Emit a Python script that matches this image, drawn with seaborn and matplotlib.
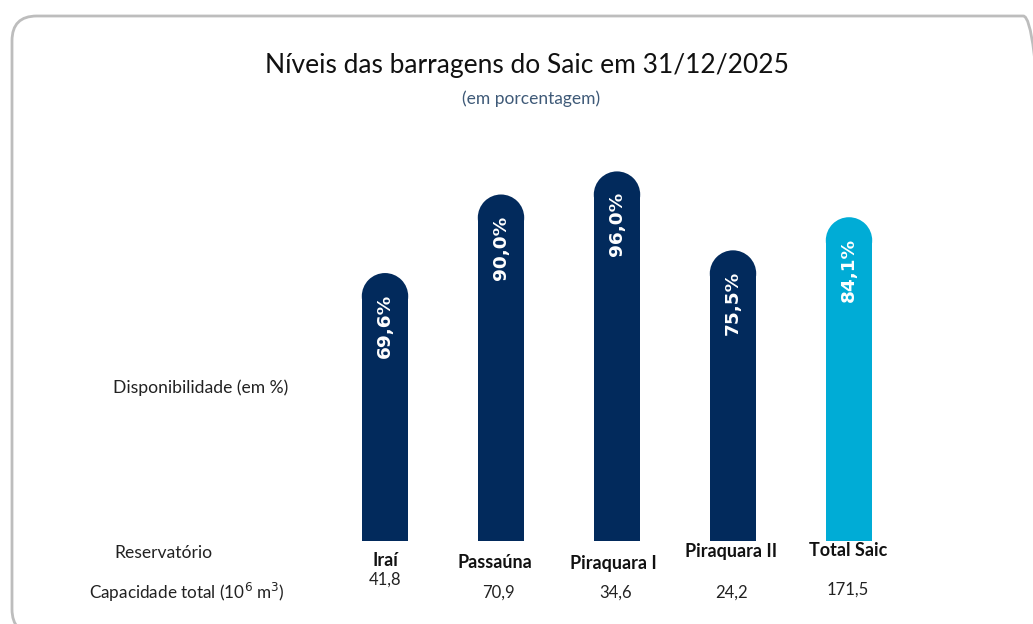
import matplotlib
matplotlib.use("Agg")
import matplotlib.pyplot as plt
import seaborn as sns
import pandas as pd
from matplotlib.patches import Ellipse, FancyBboxPatch

# ---- data ----
reservatorios = ["Iraí", "Passaúna", "Piraquara I", "Piraquara II", "Total Saic"]
disponibilidade = [69.6, 90.0, 96.0, 75.5, 84.1]
capacidade = ["41,8", "70,9", "34,6", "24,2", "171,5"]
rotulos = ["69,6%", "90,0%", "96,0%", "75,5%", "84,1%"]

NAVY = "#022a5c"
CYAN = "#00acd6"
colors = [NAVY, NAVY, NAVY, NAVY, CYAN]

sns.set_theme(style="white")
plt.rcParams["font.family"] = ["Lato", "DejaVu Sans"]

W, H = 1033, 624
fig = plt.figure(figsize=(W / 100, H / 100), dpi=100)

# rounded frame (extends past the right and bottom edges)
frame = FancyBboxPatch((12 / W, -10 / H), (1048 - 12) / W, (H - 16 + 10) / H,
                       boxstyle="round,pad=0,rounding_size=0.024",
                       transform=fig.transFigure, fill=False,
                       edgecolor="#bdbdbd", linewidth=2.0,
                       mutation_aspect=W / H)
fig.patches.append(frame)

ax = fig.add_axes([327 / W, (H - 541) / H, 580 / W, 385 / H])
df = pd.DataFrame({"res": reservatorios, "val": disponibilidade})
sns.barplot(data=df, x="res", y="val", hue="res", palette=colors,
            legend=False, width=0.4, ax=ax, saturation=1,
            edgecolor="none", linewidth=0)
ax.set_xlim(-0.5, len(reservatorios) - 0.5)
ax.set_ylim(0, 100)
ax.axis("off")

# round the tops of the bars
fig.canvas.draw()
px_per_y = ax.transData.transform((0, 1))[1] - ax.transData.transform((0, 0))[1]
px_per_x = ax.transData.transform((1, 0))[0] - ax.transData.transform((0, 0))[0]
for p in list(ax.patches):
    x, w, h = p.get_x(), p.get_width(), p.get_height()
    fc = p.get_facecolor()
    p.set_edgecolor("none")
    p.set_linewidth(0)
    r_px = w * px_per_x / 2
    ry = r_px / px_per_y
    p.set_height(h - ry)
    ax.add_patch(Ellipse((x + w / 2, h - ry), w, 2 * ry, facecolor=fc,
                         edgecolor="none", linewidth=0))

# in-bar labels
for i, (v, t) in enumerate(zip(disponibilidade, rotulos)):
    ax.annotate(t, (i, v), xytext=(0, -15), textcoords="offset points",
                rotation=90, ha="center", va="top", color="white",
                fontsize=13.3, fontweight="bold", family="DejaVu Sans")

# category labels and capacities
name_dx = [0, -6, -4, -2, -1]
name_dy = [0, 2, 2, -10, -10]
cap_dx = [0, -3, -1, -2, -1]
cap_dy = [-13, 0, 0, 0, -3]
for i, (n, c) in enumerate(zip(reservatorios, capacidade)):
    xpix = ax.transData.transform((i, 0))[0]
    fig.text((xpix + name_dx[i]) / W, 1 - (561 + name_dy[i]) / H, n,
             ha="center", va="center", fontsize=13, fontweight="bold",
             color="#111111")
    fig.text((xpix + cap_dx[i]) / W, 1 - (593 + cap_dy[i]) / H, c,
             ha="center", va="center", fontsize=12, color="#222222")

# left labels
fig.text(201 / W, 1 - 388 / H, "Disponibilidade (em %)", ha="center",
         va="center", fontsize=12.6, color="#222222")
fig.text(163 / W, 1 - 553 / H, "Reservatório", ha="center",
         va="center", fontsize=12.6, color="#222222")
fig.text(187 / W, 1 - 592 / H, "Capacidade total (10$^6$ m$^3$)", ha="center",
         va="center", fontsize=12.3, color="#222222")

# title
fig.text(527 / W, 1 - 66 / H, "Níveis das barragens do Saic em 31/12/2025",
         ha="center", va="center", fontsize=19, color="#111111")
fig.text(531 / W, 1 - 99 / H, "(em porcentagem)", ha="center", va="center",
         fontsize=12.5, color="#3f5a78")

fig.savefig("out.png", dpi=100)
